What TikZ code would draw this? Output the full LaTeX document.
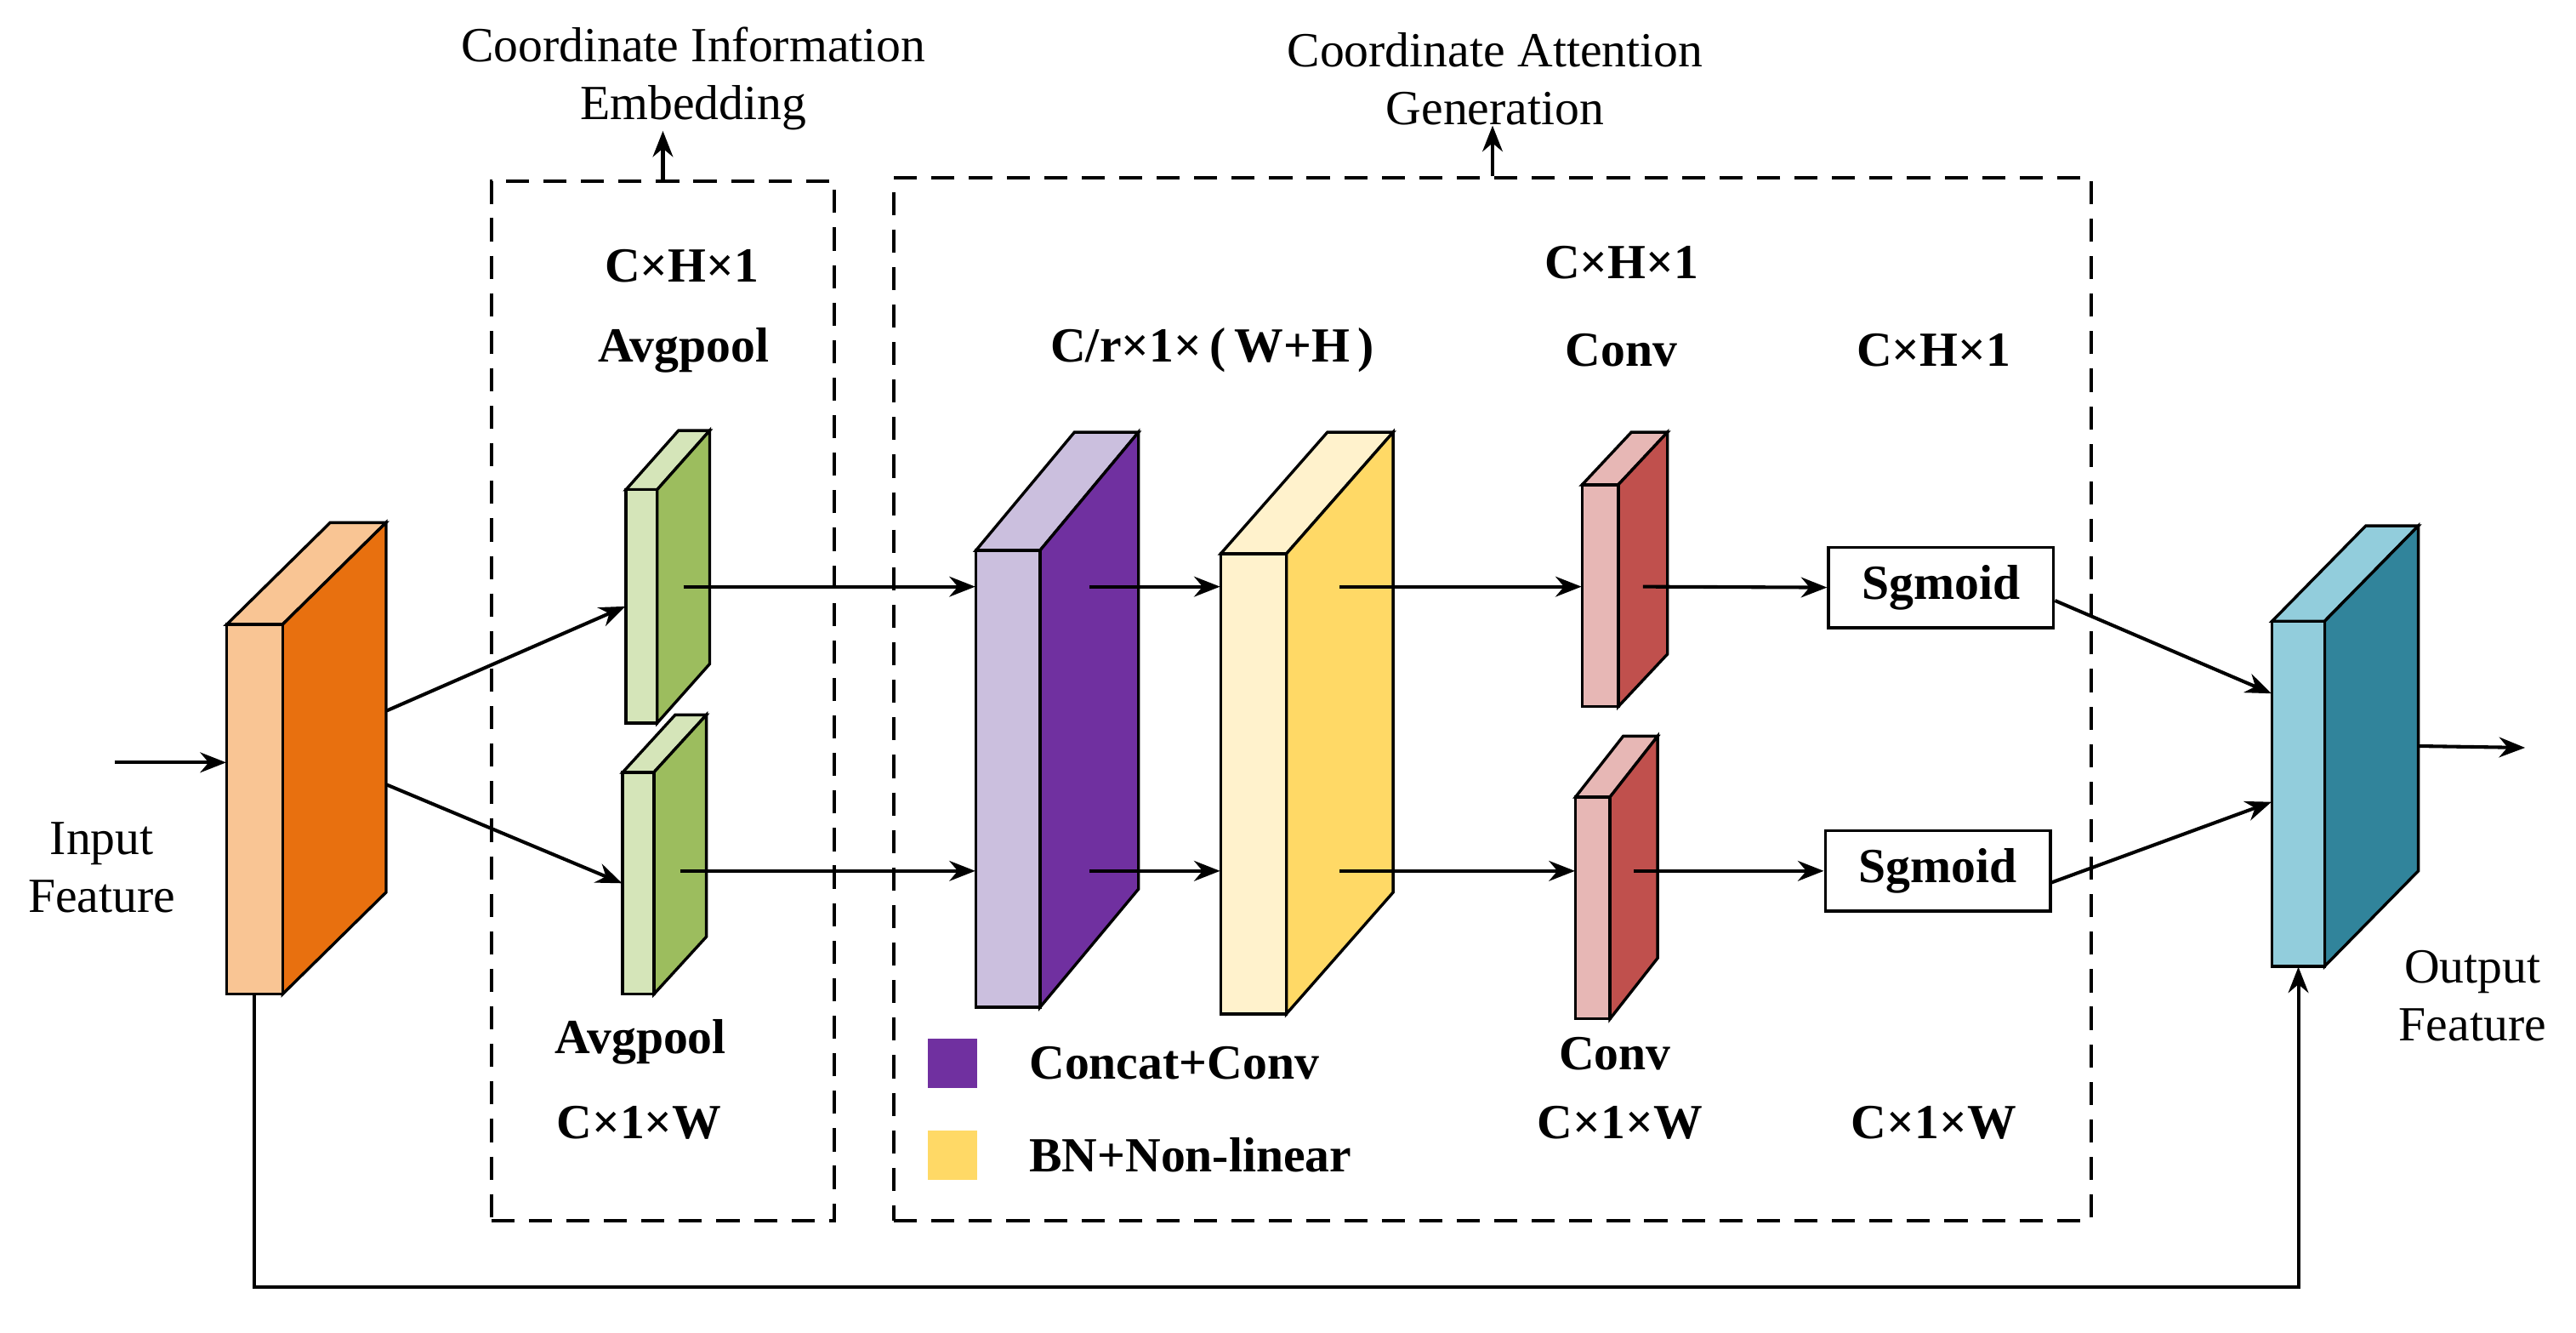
\documentclass[tikz,border=0pt]{standalone}
\usepackage{fontspec}
\setmainfont{Liberation Serif}
\usetikzlibrary{arrows.meta,positioning}
\definecolor{in-f}{HTML}{F9C594}\definecolor{in-s}{HTML}{E8700F}
\definecolor{gr-f}{HTML}{D5E5B9}\definecolor{gr-s}{HTML}{9CBD5E}
\definecolor{pu-f}{HTML}{CBBFDE}\definecolor{pu-s}{HTML}{7030A0}
\definecolor{ye-f}{HTML}{FFF2CC}\definecolor{ye-s}{HTML}{FFD966}
\definecolor{re-f}{HTML}{E7B7B5}\definecolor{re-s}{HTML}{C0504D}
\definecolor{te-f}{HTML}{92CDDC}\definecolor{te-s}{HTML}{31849B}
% slab: name, x, top y, width, height, depth x, depth y, colour
\newcommand\slab[8]{%
  \fill[#8-f,draw=black,line width=1pt] (#2,#3) -- ++(#6,-#7) -- ++(#4,0) -- (#2+#4,#3) -- cycle;
  \fill[#8-s,draw=black,line width=1pt] (#2+#4,#3) -- ++(#6,-#7) -- ++(0,#5) -- (#2+#4,#3+#5) -- cycle;
  \fill[#8-f,draw=black,line width=1pt] (#2,#3) rectangle (#2+#4,#3+#5);
  \node[inner sep=0,minimum width=#4*0.02cm,minimum height=#5*0.02cm] (#1) at (#2+#4/2,#3+#5/2) {};
  \node[inner sep=0,minimum width=#6*0.02cm,minimum height=#5*0.02cm+#7*0.02cm] (#1-b) at (#2+#4+#6/2,#3+#5/2-#7/2) {};
}
\begin{document}
\begin{tikzpicture}
  [
    x=0.02cm, y=-0.02cm,
    font=\fontsize{17}{20}\selectfont,
    arr/.style={-{Stealth[length=9pt,width=7pt]}, line width=1.2pt},
    lbl/.style={font=\fontsize{17}{20}\selectfont\bfseries},
    txt/.style={align=center, inner sep=0},
    dbox/.style={draw, dashed, line width=1.2pt, dash pattern=on 8pt off 5pt},
    sg/.style={draw, line width=1pt, lbl, minimum width=2.74cm, minimum height=0.98cm, inner sep=0},
  ]
  \useasboundingbox (0,0) rectangle (1568,811);
  % dashed regions
  \node[dbox, minimum width=4.18cm, minimum height=12.66cm] (emb) at (403.5,426.5) {};
  \node[dbox, minimum width=14.58cm, minimum height=12.7cm] (gen) at (908.5,425.5) {};
  \node[txt] (emb-t) at (422,48) {Coordinate Information\\Embedding};
  \node[txt] (gen-t) at (910,48) {Coordinate Attention\\Generation};
  \draw[arr] (emb.north) -- (emb.north |- emb-t.south);
  \draw[arr] (gen.north) -- (gen.north |- gen-t.south);
  % slabs
  \slab{in}{138}{380}{34}{225}{63}{62}{in}
  \slab{gu}{381}{298}{19}{142}{32}{36}{gr}
  \slab{gl}{379}{470}{19}{135}{32}{35}{gr}
  \slab{pu}{594}{335}{39}{278}{60}{72}{pu}
  \slab{ye}{743}{337}{40}{280}{65}{74}{ye}
  \slab{ru}{963}{295}{22}{135}{30}{32}{re}
  \slab{rl}{959}{485}{21}{135}{29}{37}{re}
  \slab{te}{1383}{378}{32}{210}{57}{58}{te}
  \node[sg] (s1) at (1181.5,357.5) {Sgmoid};
  \node[sg] (s2) at (1179.5,530) {Sgmoid};
  % labels
  \node[txt] (inl) at (62,528) {Input\\Feature};
  \node[txt] (outl) at (1505,606) {Output\\Feature};
  \node[lbl] (l1) at (415,162) {C×H×1};
  \node[lbl] (l2) at (416,213) {Avgpool};
  \node[lbl] (l3) at (390,634) {Avgpool};
  \node[lbl] (l4) at (389,683) {C×1×W};
  \node[lbl] (l5) at (738,213) {C/r×1×\,(\,W+H\,)};
  \node[lbl] (l6) at (987,160) {C×H×1};
  \node[lbl] (l7) at (987,213) {Conv};
  \node[lbl] (l8) at (1177,213) {C×H×1};
  \node[lbl] (l9) at (983,641) {Conv};
  \node[lbl] (l10) at (986,683) {C×1×W};
  \node[lbl] (l11) at (1177,683) {C×1×W};
  % legend
  \node[fill=pu-s, minimum size=0.6cm, inner sep=0] (k1) at (580,647) {};
  \node[fill=ye-s, minimum size=0.6cm, inner sep=0] (k2) at (580,703) {};
  \node[lbl, right=0.5cm of k1] (k1t) {Concat+Conv};
  \node[lbl, right=0.5cm of k2] (k2t) {BN+Non-linear};
  % connectors
  \coordinate (r1) at (0,357);
  \coordinate (r2) at (0,530);
  \coordinate (inp) at (70,464);
  \coordinate (out) at (1537,455);
  \coordinate (bot) at (0,783);
  \draw[arr] (inp) -- (inp -| in.west);
  \draw[arr] ([yshift=0.58cm]in-b.east) -- (gu.west);
  \draw[arr] ([yshift=-0.32cm]in-b.east) -- (gl.west);
  \draw[arr] (gu-b |- r1) -- (pu.west |- r1);
  \draw[arr] (gl-b |- r2) -- (pu.west |- r2);
  \draw[arr] (pu-b |- r1) -- (ye.west |- r1);
  \draw[arr] (pu-b |- r2) -- (ye.west |- r2);
  \draw[arr] (ye-b |- r1) -- (ru.west |- r1);
  \draw[arr] (ye-b |- r2) -- (rl.west |- r2);
  \draw[arr] (ru-b |- r1) -- (s1.west);
  \draw[arr] (rl-b |- r2) -- (s2.west);
  \draw[arr] ([yshift=-0.16cm]s1.east) -- ([yshift=1.22cm]te.west);
  \draw[arr] ([yshift=-0.14cm]s2.east) -- ([yshift=-0.1cm]te.west);
  \draw[arr] (te-b.east) -- (out);
  \draw[arr] (in.south) -- (in.south |- bot) -- (te.south |- bot) -- (te.south);
\end{tikzpicture}
\end{document}
